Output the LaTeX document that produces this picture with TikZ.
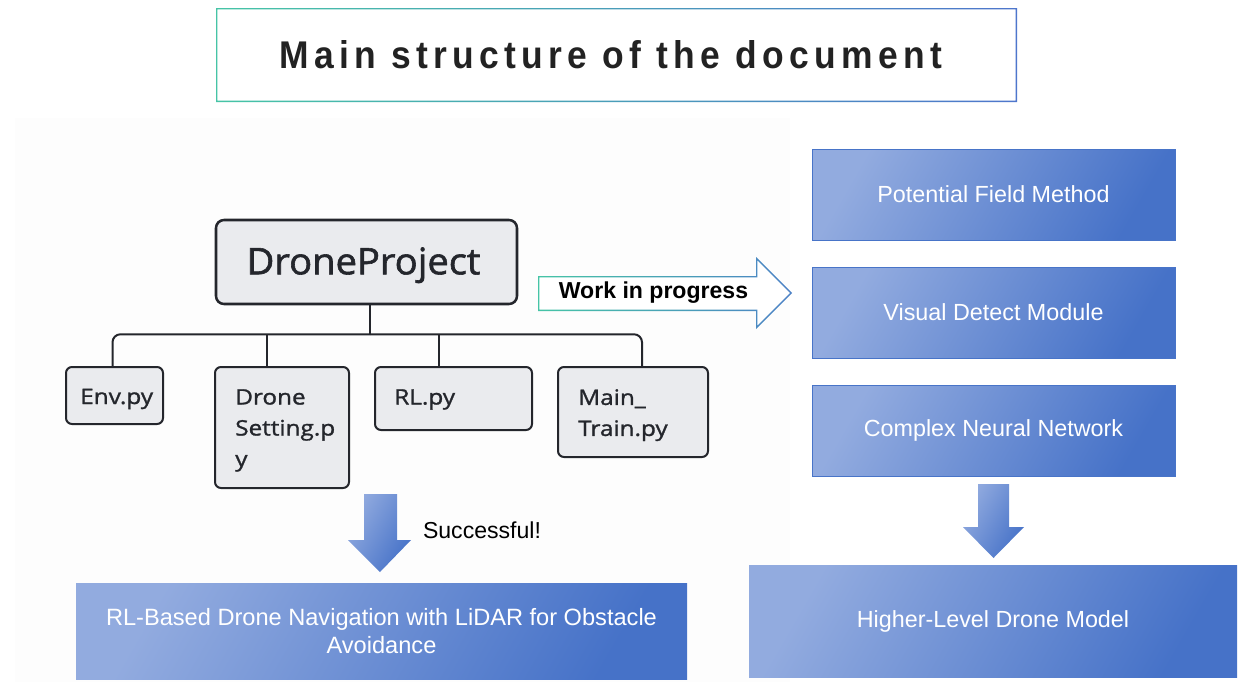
\documentclass[tikz,border=0pt]{standalone}
\usepackage{fontspec}
\usepackage{graphicx}
\setmainfont{Liberation Sans}
\newfontfamily\ofont[FakeStretch=1.14, FakeBold=1.3]{Open Sans}
\newfontfamily\dfont[FakeStretch=1.04, FakeBold=1.6]{Open Sans}
\usetikzlibrary{calc}
\definecolor{bl1}{RGB}{146,171,223}
\definecolor{bl2}{RGB}{70,114,200}
\definecolor{bord}{RGB}{72,116,200}
\definecolor{tealb}{RGB}{70,196,166}
\definecolor{blueb}{RGB}{78,118,204}
\definecolor{boxg}{RGB}{234,235,238}
\definecolor{darkl}{RGB}{36,38,44}
\definecolor{bgc}{RGB}{253,253,253}
\definecolor{titc}{RGB}{34,34,34}
\begin{document}
\begin{tikzpicture}[x=0.75pt,y=-0.75pt,
  rbox/.style={draw=darkl, line width=1.5pt, rounded corners=4.5pt, fill=boxg, inner sep=0pt},
  ftxt/.style={font=\ofont\fontsize{16}{23.25}\selectfont, text=darkl, inner sep=0pt},
  conn/.style={draw=darkl, line width=1.5pt},
  gbox/.style={draw=bord, line width=0.75pt, left color=bl1, right color=bl2, shading angle=60,
    text=white, font=\fontsize{17.5}{21}\selectfont, align=center, inner sep=0pt},
  garrow/.style={left color=bl1, right color=bl2, shading angle=60}
]
\useasboundingbox (0,0) rectangle (1243,682);
\fill[white] (0,0) rectangle (1243,682);
\fill[bgc] (15,118) rectangle (790,682);

% title
\shade[left color=tealb, right color=blueb, even odd rule]
  (216,8) rectangle (1017,102) (217.3,9.3) rectangle (1015.7,100.7);
\node[text=titc, inner sep=0pt] (title) at (611,55)
  {\resizebox{496.5pt}{21pt}{\bfseries\addfontfeature{LetterSpace=15}Main structure of the document}};

% tree
\node[rbox, line width=1.9pt, rounded corners=6pt, minimum width=225.75pt, minimum height=63pt] (dp) at (366.5,262) {};
\node[font=\dfont\fontsize{27.5}{30}\selectfont, text=darkl, inner sep=0pt, anchor=base] (dpT) at ($(dp.center)+(-3,12.3)$) {DroneProject};

\node[rbox, minimum width=72.75pt, minimum height=42.75pt] (env) at (114.5,395.5) {};
\node[ftxt, anchor=base west] (envT) at ($(env.south west)+(15,-21)$) {Env.py};
\node[rbox, minimum width=100.5pt, minimum height=90.75pt] (ds) at (282,427.5) {};
\node[ftxt, anchor=north west, align=left] (dsT) at ($(ds.north west)+(21,23)$) {Drone\\Setting.p\\y};
\node[rbox, minimum width=117.75pt, minimum height=47.25pt] (rl) at (453.5,398.5) {};
\node[ftxt, anchor=north west, align=left] (rlT) at ($(rl.north west)+(20,23)$) {RL.py};
\node[rbox, minimum width=112.5pt, minimum height=67.5pt] (mt) at (633,412) {};
\node[ftxt, anchor=north west, align=left] (mtT) at ($(mt.north west)+(21,23)$) {Main\_\\Train.py};

\path (dp.south) ++(3.5,0) coordinate (dpd);
\path (dpd) ++(0,29) coordinate (bus);
\path (ds.north) ++(-15,0) coordinate (dsd);
\path (rl.north) ++(-14.5,0) coordinate (rld);
\path (mt.north) ++(9,0) coordinate (mtd);
\path (env.north) ++(-2,0) coordinate (envd);
\draw[conn] (dpd) -- (bus);
\draw[conn, rounded corners=6pt] (envd) |- (bus);
\draw[conn, rounded corners=6pt] (mtd) |- (bus);
\draw[conn] (dsd) -- (dsd |- bus);
\draw[conn] (rld) -- (rld |- bus);

% work in progress arrow
\fill[white] (538,276) -- (756,276) -- (756,257) -- (792,293) -- (756,329) -- (756,311) -- (538,311) -- cycle;
\shade[left color=tealb, right color=blueb!85!tealb, even odd rule]
  (538,276) -- (756,276) -- (756,257) -- (792,293) -- (756,329) -- (756,311) -- (538,311) -- cycle
  (539.3,277.3) -- (757.3,277.3) -- (757.3,260.1) -- (790.2,293) -- (757.3,325.9) -- (757.3,309.7) -- (539.3,309.7) -- cycle;
\node[font=\bfseries\fontsize{17.3}{20}\selectfont, text=black, inner sep=0pt] (wip) at (653.5,293) {Work in progress};

% right column
\node[gbox, minimum width=272.25pt, minimum height=68.25pt] (pf) at (993.5,194.5) {Potential Field Method};
\node[gbox, minimum width=272.25pt, minimum height=68.25pt] (vd) at (993.5,312.5) {Visual Detect Module};
\node[gbox, minimum width=272.25pt, minimum height=68.25pt] (cn) at (993.5,430.5) {Complex Neural Network};
\shade[garrow] (978,484) -- (1009,484) -- (1009,527) -- (1024,527) -- (993.5,558) -- (963,527) -- (978,527) -- cycle;
\node[gbox, draw=none, minimum width=366pt, minimum height=84pt] (hl) at (993,621) {Higher-Level Drone Model};

% left bottom
\shade[garrow] (364,494) -- (397,494) -- (397,540) -- (411,540) -- (380,572) -- (348,540) -- (364,540) -- cycle;
\node[font=\fontsize{17.3}{20}\selectfont, text=black, inner sep=0pt] (succ) at (482,530) {Successful!};
\node[gbox, draw=none, minimum width=458.25pt, minimum height=72pt, font=\fontsize{17.7}{21}\selectfont] (rlb) at (381.5,631)
  {RL-Based Drone Navigation with LiDAR for Obstacle\\Avoidance};
\end{tikzpicture}
\end{document}
